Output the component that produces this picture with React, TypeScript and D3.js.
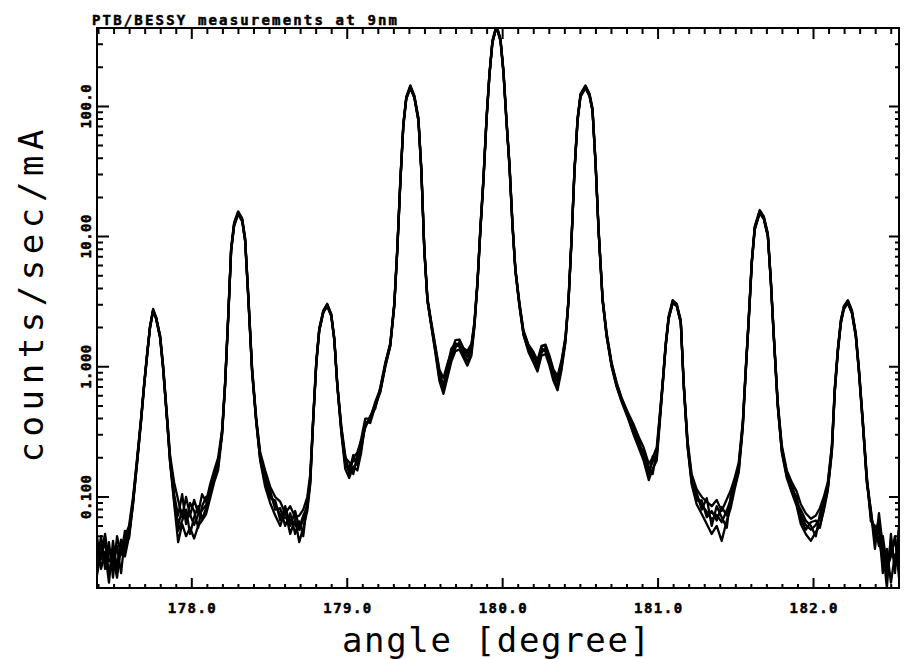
import React, { useEffect, useRef } from "react";
import * as d3 from "d3";

const chartTitle = "PTB/BESSY measurements at 9nm";
const xTitle = "angle [degree]";
const yTitle = "counts/sec/mA";

const xMajorTicks = [178, 179, 180, 181, 182];
const xTickLabels = ["178.0", "179.0", "180.0", "181.0", "182.0"];
const yMajorTicks = [0.1, 1, 10, 100];
const yTickLabels = ["0.100", "1.000", "10.00", "100.0"];

// scan angles [degree]
const angles = [
  177.390, 177.416, 177.442, 177.467, 177.493, 177.519, 177.545, 177.570, 177.596, 177.622,
  177.648, 177.673, 177.693, 177.712, 177.731, 177.751, 177.770, 177.796, 177.815, 177.841,
  177.860, 177.886, 177.912, 177.938, 177.963, 177.989, 178.015, 178.041, 178.066, 178.092,
  178.118, 178.144, 178.169, 178.195, 178.214, 178.234, 178.253, 178.272, 178.298, 178.324,
  178.343, 178.363, 178.388, 178.414, 178.440, 178.472, 178.504, 178.537, 178.569, 178.601,
  178.633, 178.665, 178.691, 178.717, 178.743, 178.762, 178.781, 178.801, 178.820, 178.846,
  178.871, 178.897, 178.917, 178.936, 178.962, 178.987, 179.013, 179.039, 179.065, 179.090,
  179.116, 179.148, 179.181, 179.213, 179.245, 179.277, 179.303, 179.322, 179.342, 179.361,
  179.380, 179.406, 179.432, 179.458, 179.477, 179.496, 179.516, 179.541, 179.567, 179.593,
  179.619, 179.644, 179.670, 179.696, 179.722, 179.747, 179.773, 179.799, 179.818, 179.838,
  179.857, 179.876, 179.896, 179.915, 179.934, 179.960, 179.986, 180.005, 180.024, 180.044,
  180.063, 180.082, 180.108, 180.134, 180.166, 180.198, 180.224, 180.250, 180.276, 180.301,
  180.327, 180.353, 180.379, 180.404, 180.424, 180.443, 180.462, 180.482, 180.501, 180.533,
  180.559, 180.578, 180.598, 180.617, 180.643, 180.669, 180.701, 180.733, 180.765, 180.804,
  180.843, 180.875, 180.907, 180.940, 180.965, 180.991, 181.010, 181.029, 181.049, 181.068,
  181.094, 181.120, 181.146, 181.165, 181.190, 181.216, 181.248, 181.281, 181.313, 181.345,
  181.377, 181.409, 181.442, 181.467, 181.493, 181.519, 181.545, 181.564, 181.583, 181.603,
  181.622, 181.654, 181.680, 181.706, 181.725, 181.744, 181.770, 181.796, 181.828, 181.860,
  181.892, 181.918, 181.950, 181.983, 182.015, 182.041, 182.066, 182.092, 182.118, 182.137,
  182.157, 182.176, 182.195, 182.221, 182.247, 182.272, 182.292, 182.318, 182.343, 182.369,
  182.395, 182.421, 182.446, 182.472, 182.498, 182.524, 182.550,
];

// counts/sec/mA, one array per measurement run
const scanA = [
  0.043, 0.033, 0.047, 0.025, 0.039, 0.030, 0.047, 0.043, 0.056, 0.095,
  0.192, 0.390, 0.725, 1.23, 2.02, 2.73, 2.37, 1.70, 0.996, 0.390,
  0.192, 0.100, 0.061, 0.079, 0.067, 0.073, 0.061, 0.073, 0.079, 0.087,
  0.113, 0.143, 0.176, 0.310, 0.725, 2.37, 7.9, 12.3, 15.2, 13.4,
  9.42, 3.5, 0.93, 0.39, 0.20, 0.135, 0.104, 0.087, 0.073, 0.069,
  0.067, 0.061, 0.056, 0.067, 0.087, 0.135, 0.39, 1.07, 1.92, 2.64,
  2.98, 2.5, 1.61, 0.725, 0.33, 0.186, 0.167, 0.192, 0.186, 0.25,
  0.36, 0.39, 0.51, 0.66, 1.03, 1.47, 3.0, 7.9, 27, 72,
  116, 141, 118, 79, 32, 7.9, 3.26, 2.1, 1.35, 0.865,
  0.725, 0.94, 1.23, 1.47, 1.47, 1.30, 1.19, 1.39, 2.1, 4.4,
  11.5, 27, 79, 175, 312, 410, 324, 184, 79, 35,
  12.3, 5.5, 3.0, 1.82, 1.39, 1.19, 1.03, 1.35, 1.35, 1.13,
  0.865, 0.765, 1.03, 1.61, 3.26, 9.42, 32, 79, 122, 141,
  122, 94, 36, 11.2, 3.26, 1.75, 1.03, 0.725, 0.556, 0.426,
  0.327, 0.264, 0.21, 0.156, 0.186, 0.21, 0.39, 0.725, 1.47, 2.37,
  3.15, 2.98, 2.21, 0.725, 0.25, 0.135, 0.10, 0.087, 0.077, 0.067,
  0.073, 0.064, 0.079, 0.095, 0.128, 0.167, 0.36, 0.94, 2.29, 6.38,
  11.6, 15.5, 13.9, 10.3, 4.64, 1.75, 0.51, 0.23, 0.148, 0.119,
  0.095, 0.073, 0.061, 0.056, 0.061, 0.069, 0.087, 0.119, 0.23, 0.663,
  1.35, 2.21, 2.83, 3.15, 2.64, 1.75, 0.94, 0.36, 0.135, 0.073,
  0.051, 0.067, 0.036, 0.025, 0.047, 0.030, 0.056,
];

const scanB = [
  0.030, 0.050, 0.028, 0.045, 0.024, 0.050, 0.036, 0.055, 0.048, 0.090,
  0.18, 0.37, 0.70, 1.20, 2.0, 2.65, 2.40, 1.75, 1.05, 0.42,
  0.21,
  0.130, 0.095, 0.070, 0.100, 0.072, 0.095, 0.075, 0.105, 0.092, 0.125, 0.160, 0.200,
  0.33, 0.76, 2.45, 8.2, 12.8, 15.6, 13.8,
  9.8, 3.7, 0.98, 0.41,
  0.22, 0.160, 0.120, 0.100, 0.092, 0.075, 0.085, 0.070, 0.072, 0.080, 0.100, 0.150,
  0.41, 1.12, 1.98, 2.70, 3.05, 2.55, 1.66, 0.75,
  0.35, 0.21, 0.15, 0.20, 0.22, 0.27, 0.34,
  0.42, 0.48, 0.70, 1.08, 1.52, 3.1, 8.2, 28, 74, 119, 145, 121, 82, 33, 8.2, 3.4, 2.2,
  1.45, 0.95, 0.82, 1.05, 1.30, 1.60, 1.62, 1.40, 1.32, 1.50, 2.2,
  4.6, 12, 28, 82, 180, 320, 420, 330, 190, 82, 36, 12.8, 5.7, 3.1,
  1.9, 1.48, 1.30, 1.12, 1.45, 1.48, 1.22, 0.95, 0.85, 1.12, 1.70,
  3.4, 9.8, 33, 82, 125, 145, 125, 97, 37, 11.6, 3.4, 1.82, 1.08, 0.76, 0.58, 0.45,
  0.36, 0.29, 0.24, 0.18, 0.20, 0.24, 0.42,
  0.76, 1.52, 2.45, 3.25, 3.05, 2.28, 0.76,
  0.27, 0.150, 0.115, 0.100, 0.092, 0.085, 0.095, 0.078, 0.096, 0.112, 0.140, 0.185,
  0.38, 0.98, 2.38, 6.6, 12.0, 16.0, 14.3, 10.6, 4.8, 1.82, 0.54,
  0.25, 0.16, 0.130, 0.110, 0.088, 0.075, 0.068, 0.072, 0.082, 0.100, 0.130, 0.25,
  0.70, 1.40, 2.30, 2.92, 3.25, 2.72, 1.82, 0.98, 0.38, 0.145, 0.065,
  0.060, 0.042, 0.050, 0.030, 0.038, 0.045, 0.040,
];

const scanC = [
  0.050, 0.028, 0.038, 0.022, 0.046, 0.027, 0.040, 0.035, 0.050, 0.088,
  0.185, 0.38, 0.71, 1.21, 1.98, 2.70, 2.33, 1.66, 0.97, 0.38,
  0.185,
  0.090, 0.045, 0.062, 0.050, 0.058, 0.048, 0.060, 0.066, 0.074, 0.098, 0.130, 0.160,
  0.30, 0.70, 2.30, 7.7, 12.0, 14.9, 13.1,
  9.2, 3.4, 0.90, 0.38,
  0.19, 0.120, 0.090, 0.072, 0.060, 0.078, 0.052, 0.068, 0.045, 0.058, 0.078, 0.125,
  0.38, 1.05, 1.88, 2.60, 2.92, 2.45, 1.58, 0.71,
  0.31, 0.165, 0.140, 0.172, 0.160, 0.22, 0.38,
  0.37, 0.50, 0.64, 1.00, 1.44, 2.95, 7.7, 26, 70, 114, 138, 116, 77, 31, 7.7, 3.2, 2.05,
  1.28, 0.78, 0.62, 0.82, 1.10, 1.32, 1.36, 1.18, 1.02, 1.22, 2.0,
  4.3, 11.2, 26, 77, 172, 305, 405, 318, 180, 77, 34, 12.0, 5.4, 2.9,
  1.75, 1.30, 1.08, 0.92, 1.22, 1.25, 1.02, 0.78, 0.66, 0.95, 1.55,
  3.2, 9.2, 31, 77, 119, 138, 119, 92, 35, 11.0, 3.2, 1.70, 1.00, 0.70, 0.54, 0.41,
  0.30, 0.24, 0.19, 0.135, 0.165, 0.19, 0.36,
  0.70, 1.42, 2.32, 3.08, 2.92, 2.16, 0.70,
  0.24, 0.125, 0.088, 0.074, 0.062, 0.052, 0.060, 0.046, 0.066, 0.082, 0.115, 0.155,
  0.34, 0.90, 2.22, 6.2, 11.3, 15.1, 13.6, 10.0, 4.5, 1.70, 0.49,
  0.22, 0.14, 0.108, 0.085, 0.062, 0.052, 0.046, 0.054, 0.060, 0.078, 0.112, 0.22,
  0.64, 1.31, 2.15, 2.76, 3.08, 2.58, 1.70, 0.91, 0.35, 0.128, 0.080,
  0.045, 0.058, 0.026, 0.040, 0.022, 0.036, 0.033,
];

const scanD = [
  0.036, 0.045, 0.030, 0.040, 0.030, 0.042, 0.026, 0.050, 0.060, 0.100,
  0.20, 0.40, 0.74, 1.26, 2.06, 2.78, 2.42, 1.72, 1.02, 0.40,
  0.20,
  0.105, 0.072, 0.105, 0.062, 0.090, 0.078, 0.058, 0.085, 0.100, 0.105, 0.150, 0.170,
  0.32, 0.74, 2.42, 8.0, 12.5, 15.4, 13.6,
  9.6, 3.6, 0.95, 0.40,
  0.21, 0.145, 0.112, 0.080, 0.082, 0.060, 0.075, 0.052, 0.065, 0.050, 0.092, 0.140,
  0.40, 1.10, 1.95, 2.68, 3.0, 2.52, 1.64, 0.73,
  0.34, 0.20, 0.185, 0.150, 0.21, 0.28, 0.40,
  0.40, 0.54, 0.68, 1.05, 1.50, 3.05, 8.0, 27.5, 73, 117, 143, 120, 80, 32.5, 8.0, 3.3, 2.15,
  1.40, 0.92, 0.70, 1.00, 1.38, 1.52, 1.42, 1.36, 1.26, 1.45, 2.15,
  4.5, 11.8, 27.5, 80, 178, 316, 415, 327, 187, 80, 35.5, 12.6, 5.6, 3.05,
  1.86, 1.45, 1.25, 1.10, 1.40, 1.30, 1.18, 0.92, 0.80, 1.08, 1.66,
  3.3, 9.6, 32.5, 80, 123, 143, 123, 95, 36.5, 11.4, 3.3, 1.78, 1.05, 0.74, 0.57, 0.44,
  0.34, 0.25, 0.225, 0.170, 0.150, 0.22, 0.40,
  0.74, 1.50, 2.40, 3.2, 3.0, 2.24, 0.74,
  0.26, 0.140, 0.108, 0.080, 0.098, 0.060, 0.085, 0.070, 0.058, 0.102, 0.132, 0.175,
  0.37, 0.96, 2.33, 6.5, 11.8, 15.8, 14.1, 10.4, 4.7, 1.78, 0.52,
  0.24, 0.155, 0.125, 0.090, 0.080, 0.066, 0.060, 0.050, 0.074, 0.094, 0.125, 0.24,
  0.68, 1.38, 2.26, 2.88, 3.2, 2.68, 1.78, 0.96, 0.37, 0.140, 0.078,
  0.040, 0.075, 0.042, 0.020, 0.052, 0.026, 0.060,
];

const scanE = [
  0.025, 0.038, 0.052, 0.032, 0.035, 0.024, 0.044, 0.038, 0.052, 0.092,
  0.188, 0.385, 0.72, 1.22, 2.0, 2.70, 2.35, 1.68, 0.98, 0.39,
  0.188,
  0.095, 0.055, 0.066, 0.080, 0.052, 0.070, 0.085, 0.068, 0.082, 0.115, 0.138, 0.180,
  0.315, 0.72, 2.35, 7.8, 12.2, 15.0, 13.2,
  9.3, 3.45, 0.92, 0.385,
  0.195, 0.128, 0.098, 0.094, 0.066, 0.085, 0.060, 0.078, 0.058, 0.072, 0.084, 0.130,
  0.39, 1.06, 1.90, 2.62, 2.95, 2.48, 1.60, 0.72,
  0.32, 0.178, 0.158, 0.21, 0.175, 0.235, 0.35,
  0.41, 0.52, 0.65, 1.02, 1.46, 2.98, 7.8, 26.5, 71, 115, 140, 117, 78, 31.5, 7.8, 3.22, 2.08,
  1.32, 0.82, 0.66, 0.88, 1.18, 1.40, 1.55, 1.24, 1.10, 1.30, 2.05,
  4.35, 11.4, 26.5, 78, 175, 310, 410, 320, 182, 78, 34.5, 12.2, 5.45, 2.95,
  1.78, 1.34, 1.14, 0.98, 1.28, 1.40, 1.08, 0.82, 0.70, 1.00, 1.58,
  3.22, 9.3, 31.5, 78, 120, 140, 120, 93, 35.5, 11.1, 3.22, 1.72, 1.02, 0.72, 0.55, 0.42,
  0.31, 0.275, 0.195, 0.145, 0.205, 0.20, 0.38,
  0.72, 1.45, 2.35, 3.1, 2.95, 2.18, 0.72,
  0.245, 0.130, 0.094, 0.094, 0.070, 0.078, 0.066, 0.084, 0.072, 0.090, 0.122, 0.160,
  0.35, 0.92, 2.25, 6.3, 11.5, 15.3, 13.8, 10.1, 4.55, 1.72, 0.50,
  0.225, 0.145, 0.114, 0.100, 0.068, 0.056, 0.064, 0.066, 0.058, 0.082, 0.116, 0.225,
  0.65, 1.33, 2.18, 2.80, 3.1, 2.60, 1.72, 0.92, 0.355, 0.132, 0.070,
  0.055, 0.048, 0.032, 0.028, 0.035, 0.050, 0.024,
];

const scans = [scanA, scanB, scanC, scanD, scanE];

const W = 904;
const H = 659;
const margin = { top: 28, right: 5, bottom: 71, left: 97 };
const font = "'DejaVu Sans Mono', monospace";

const App = () => {
  const chartRef = useRef<SVGSVGElement>(null);

  useEffect(() => {
    const svg = d3.select(chartRef.current);
    svg.selectAll("*").remove();

    const x0 = margin.left;
    const x1 = W - margin.right;
    const y0 = H - margin.bottom;
    const y1 = margin.top;

    const x = d3.scaleLinear().domain([177.39, 182.55]).range([x0, x1]);
    const y = d3.scaleLog().domain([0.02, 400]).range([y0, y1]);

    svg.append("rect").attr("width", W).attr("height", H).attr("fill", "#fff");

    svg
      .append("defs")
      .append("clipPath")
      .attr("id", "plot-clip")
      .append("rect")
      .attr("x", x0)
      .attr("y", y1)
      .attr("width", x1 - x0)
      .attr("height", y0 - y1);

    // measurement curves
    const line = d3
      .line<number>()
      .defined((d) => d != null && d > 0)
      .x((_, i) => x(angles[i]))
      .y((d) => y(d));

    svg
      .append("g")
      .attr("clip-path", "url(#plot-clip)")
      .selectAll("path")
      .data(scans)
      .enter()
      .append("path")
      .attr("d", (d) => line(d))
      .attr("fill", "none")
      .attr("stroke", "#000")
      .attr("stroke-width", 2.3)
      .attr("stroke-linejoin", "round");

    // frame
    svg
      .append("rect")
      .attr("x", x0)
      .attr("y", y1)
      .attr("width", x1 - x0)
      .attr("height", y0 - y1)
      .attr("fill", "none")
      .attr("stroke", "#000")
      .attr("stroke-width", 2);

    // ticks, all pointing into the plot, drawn as one path each
    const xMinor = d3
      .range(1774, 1826)
      .map((v) => v / 10)
      .filter((v) => !xMajorTicks.includes(v));
    const yMinor = y.ticks().filter((v) => !yMajorTicks.some((m) => Math.abs(m - v) < 1e-9));

    const xTickPath = (vals: number[], yy: number, len: number) =>
      vals.map((v) => `M${x(v)},${yy}V${yy + len}`).join("");
    const yTickPath = (vals: number[], xx: number, len: number) =>
      vals.map((v) => `M${xx},${y(v)}H${xx + len}`).join("");

    const tickPaths = [
      xTickPath(xMinor, y0, -4),
      xTickPath(xMajorTicks, y0, -10),
      xTickPath(xMinor, y1, 6),
      xTickPath(xMajorTicks, y1, 11),
      yTickPath(yMinor, x0, 6),
      yTickPath(yMajorTicks, x0, 12),
      yTickPath(yMinor, x1, -4),
      yTickPath(yMajorTicks, x1, -10),
    ];

    svg
      .append("g")
      .selectAll("path")
      .data(tickPaths)
      .enter()
      .append("path")
      .attr("d", (d) => d)
      .attr("fill", "none")
      .attr("stroke", "#000")
      .attr("stroke-width", 2);

    // tick labels
    svg
      .append("g")
      .selectAll("text")
      .data(xMajorTicks)
      .enter()
      .append("text")
      .attr("x", (d) => x(d))
      .attr("y", y0 + 25)
      .attr("text-anchor", "middle")
      .attr("font-family", font)
      .attr("font-weight", "bold")
      .attr("font-size", 14)
      .attr("stroke", "#000")
      .attr("stroke-width", 0.5)
      .attr("textLength", 48)
      .attr("lengthAdjust", "spacing")
      .text((_, i) => xTickLabels[i]);

    svg
      .append("g")
      .selectAll("text")
      .data(yMajorTicks)
      .enter()
      .append("text")
      .attr("transform", (d) => `translate(${x0 - 6},${y(d)}) rotate(-90)`)
      .attr("text-anchor", "middle")
      .attr("font-family", font)
      .attr("font-weight", "bold")
      .attr("font-size", 14)
      .attr("stroke", "#000")
      .attr("stroke-width", 0.5)
      .attr("textLength", 44)
      .attr("lengthAdjust", "spacing")
      .text((_, i) => yTickLabels[i]);

    // titles
    svg
      .append("text")
      .attr("x", 92)
      .attr("y", 25)
      .attr("font-family", font)
      .attr("font-weight", "bold")
      .attr("font-size", 14)
      .attr("stroke", "#000")
      .attr("stroke-width", 0.5)
      .attr("textLength", 305)
      .attr("lengthAdjust", "spacing")
      .text(chartTitle);

    svg
      .append("text")
      .attr("x", 496)
      .attr("y", 652)
      .attr("text-anchor", "middle")
      .attr("font-family", font)
      .attr("font-size", 34)
      .attr("textLength", 308)
      .attr("lengthAdjust", "spacing")
      .text(xTitle);

    svg
      .append("text")
      .attr("transform", `translate(43,296) rotate(-90)`)
      .attr("text-anchor", "middle")
      .attr("font-family", font)
      .attr("font-size", 34)
      .attr("textLength", 333)
      .attr("lengthAdjust", "spacing")
      .text(yTitle);
  }, []);

  return (
    <svg
      ref={chartRef}
      width={W}
      height={H}
      style={{ position: "absolute", left: 0, top: 0, display: "block" }}
    ></svg>
  );
};

export default App;
